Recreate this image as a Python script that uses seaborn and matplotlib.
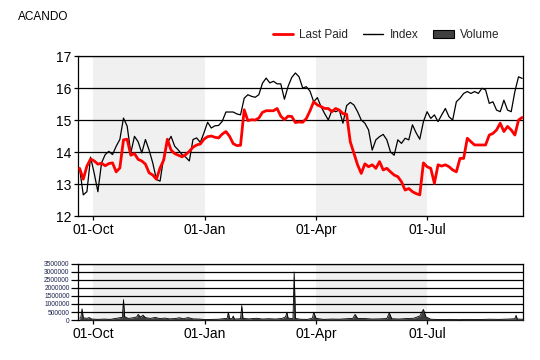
import pandas as pd
import seaborn as sns
import matplotlib.pyplot as plt
import matplotlib.dates as mdates
from matplotlib.lines import Line2D
from matplotlib.patches import Patch

title = "ACANDO"
start_date = "2011-09-20"

# closing prices, one reading every third day
last_paid = [
    13.49, 13.15, 13.56, 13.78, 13.72, 13.62, 13.65, 13.57, 13.64, 13.66,
    13.38, 13.50, 14.38, 14.40, 13.90, 13.95, 13.77, 13.72, 13.62, 13.35,
    13.28, 13.15, 13.50, 13.75, 14.40, 14.06, 13.95, 13.90, 13.85, 13.92,
    14.02, 14.15, 14.22, 14.25, 14.40, 14.48, 14.50, 14.46, 14.44, 14.56,
    14.64, 14.49, 14.26, 14.20, 14.21, 15.32, 14.98, 15.01, 15.00, 15.06,
    15.24, 15.29, 15.29, 15.29, 15.36, 15.12, 15.01, 15.12, 15.11, 14.92,
    14.94, 14.93, 15.05, 15.29, 15.57, 15.47, 15.42, 15.36, 15.36, 15.26,
    15.36, 15.31, 15.20, 15.18, 14.32, 13.96, 13.60, 13.33, 13.63, 13.54,
    13.60, 13.49, 13.70, 13.44, 13.49, 13.38, 13.28, 13.23, 13.07, 12.81,
    12.86, 12.76, 12.70, 12.66, 13.66, 13.54, 13.49, 13.02, 13.60, 13.56,
    13.60, 13.54, 13.44, 13.38, 13.80, 13.80, 14.43, 14.32, 14.22, 14.22,
    14.22, 14.22, 14.53, 14.58, 14.69, 14.90, 14.64, 14.80, 14.69, 14.53,
    15.00, 15.08,
]
index_vals = [
    13.49, 12.66, 12.76, 13.84, 13.33, 12.76, 13.66, 13.92, 14.02, 13.92,
    14.18, 14.39, 15.06, 14.81, 13.97, 14.49, 14.32, 13.97, 14.39, 14.06,
    13.66, 13.14, 13.09, 13.84, 14.28, 14.49, 14.18, 14.06, 13.92, 13.84,
    13.72, 14.39, 14.44, 14.30, 14.60, 14.93, 14.75, 14.82, 14.83, 14.96,
    15.25, 15.25, 15.25, 15.19, 15.16, 15.68, 15.79, 15.74, 15.71, 15.79,
    16.15, 16.31, 16.16, 16.21, 16.13, 16.13, 15.65, 16.05, 16.33, 16.47,
    16.35, 16.00, 16.04, 15.90, 15.57, 15.70, 15.42, 15.20, 15.00, 15.31,
    15.26, 15.31, 14.90, 15.45, 15.55, 15.47, 15.26, 15.00, 14.90, 14.69,
    14.06, 14.38, 14.48, 14.55, 14.38, 14.00, 13.90, 14.38, 14.27, 14.43,
    14.38, 14.85, 14.60, 14.40, 14.95, 15.26, 15.05, 15.16, 14.95, 15.16,
    15.36, 15.10, 15.00, 15.57, 15.68, 15.83, 15.89, 15.83, 15.89, 15.83,
    15.99, 15.94, 15.52, 15.57, 15.31, 15.26, 15.62, 15.31, 15.26, 15.89,
    16.35, 16.30,
]

vol_dates = [
    "2011-09-20", "2011-09-21", "2011-09-22", "2011-09-23", "2011-09-26",
    "2011-09-28", "2011-09-30", "2011-10-05", "2011-10-10", "2011-10-15",
    "2011-10-19", "2011-10-22", "2011-10-24", "2011-10-25", "2011-10-26",
    "2011-10-27", "2011-10-30", "2011-11-03", "2011-11-06", "2011-11-07",
    "2011-11-09", "2011-11-11", "2011-11-13", "2011-11-17", "2011-11-21",
    "2011-11-25", "2011-11-29", "2011-12-03", "2011-12-07", "2011-12-11",
    "2011-12-14", "2011-12-18", "2011-12-22", "2011-12-27", "2012-01-01",
    "2012-01-06", "2012-01-12", "2012-01-17", "2012-01-19", "2012-01-20",
    "2012-01-21", "2012-01-23", "2012-01-24", "2012-01-25", "2012-01-30",
    "2012-01-31", "2012-02-01", "2012-02-06", "2012-02-12", "2012-02-17",
    "2012-02-22", "2012-02-28", "2012-03-04", "2012-03-07", "2012-03-08",
    "2012-03-09", "2012-03-13", "2012-03-14", "2012-03-15", "2012-03-19",
    "2012-03-25", "2012-03-29", "2012-03-30", "2012-04-01", "2012-04-07",
    "2012-04-14", "2012-04-20", "2012-04-26", "2012-05-01", "2012-05-03",
    "2012-05-05", "2012-05-11", "2012-05-17", "2012-05-23", "2012-05-29",
    "2012-05-31", "2012-06-02", "2012-06-08", "2012-06-14", "2012-06-20",
    "2012-06-25", "2012-06-28", "2012-06-30", "2012-07-04", "2012-07-11",
    "2012-07-19", "2012-07-27", "2012-08-04", "2012-08-13", "2012-08-21",
    "2012-08-29", "2012-09-06", "2012-09-11", "2012-09-12", "2012-09-13",
    "2012-09-18",
]
vol_values = [
    120000, 150000, 700000, 130000, 110000,
    150000, 60000, 40000, 60000, 40000,
    90000, 130000, 160000, 120000, 1270000,
    200000, 100000, 140000, 200000, 350000,
    180000, 300000, 150000, 100000, 160000,
    90000, 120000, 70000, 90000, 140000,
    80000, 150000, 70000, 60000, 30000,
    40000, 50000, 90000, 100000, 490000,
    90000, 80000, 250000, 60000, 80000,
    900000, 100000, 70000, 110000, 60000,
    80000, 60000, 100000, 200000, 490000,
    120000, 80000, 3000000, 100000, 50000,
    40000, 120000, 490000, 100000, 40000,
    60000, 50000, 80000, 100000, 350000,
    100000, 90000, 60000, 70000, 90000,
    450000, 80000, 60000, 90000, 110000,
    250000, 660000, 200000, 50000, 30000,
    40000, 20000, 40000, 30000, 50000,
    40000, 60000, 80000, 290000, 60000,
    50000,
]

price_ticks = [12, 13, 14, 15, 16, 17]
vol_ticks = [0, 500000, 1000000, 1500000, 2000000, 2500000, 3000000, 3500000]
shaded = [("2011-10-01", "2012-01-01"), ("2012-04-01", "2012-07-01")]

dates = pd.date_range(start_date, periods=len(last_paid), freq="3D")
df = pd.DataFrame({"date": dates, "last_paid": last_paid, "index": index_vals})
vol = pd.DataFrame({"date": pd.to_datetime(vol_dates), "volume": vol_values})

sns.set_theme(style="white")
plt.rcParams["font.family"] = ["Liberation Sans", "DejaVu Sans"]

fig = plt.figure(figsize=(5.4, 3.6), dpi=100)
ax = fig.add_axes([0.1444, 0.4, 0.8241, 0.4444])
ax2 = fig.add_axes([0.1444, 0.1111, 0.8241, 0.1556])

xlim = (pd.Timestamp("2011-09-18 16:00"), pd.Timestamp("2012-09-17 16:00"))

for a in (ax, ax2):
    for s, e in shaded:
        a.axvspan(pd.Timestamp(s), pd.Timestamp(e), color="#f0f0f0", lw=0, zorder=0)
    a.set_axisbelow(True)
    a.yaxis.grid(True, color="black", lw=0.9)
    a.xaxis.grid(False)
    for sp in a.spines.values():
        sp.set_color("black")
        sp.set_linewidth(0.9)
    a.set_xlim(xlim)
    a.xaxis.set_major_locator(mdates.MonthLocator(bymonth=[1, 4, 7, 10]))
    a.xaxis.set_major_formatter(mdates.DateFormatter("%d-%b"))
    a.tick_params(bottom=True, left=True, direction="out", length=3, width=0.9,
                  color="black", labelcolor="black", pad=2)

# price panel
sns.lineplot(data=df, x="date", y="index", ax=ax, color="black", lw=0.9, zorder=3)
sns.lineplot(data=df, x="date", y="last_paid", ax=ax, color="#ff0000", lw=2.0, zorder=4)
ax.set_ylim(12, 17)
ax.set_yticks(price_ticks)
ax.tick_params(labelsize=10)
ax.set_xlabel("")
ax.set_ylabel("")

# volume panel
ax2.fill_between(vol["date"], vol["volume"], color="#3c3c3c", lw=0, zorder=3)
sns.lineplot(data=vol, x="date", y="volume", ax=ax2, color="black", lw=0.6, zorder=4)
ax2.set_ylim(0, 3500000)
ax2.set_yticks(vol_ticks)
ax2.set_yticklabels([str(v) for v in vol_ticks])
ax2.tick_params(axis="y", labelsize=4.8, pad=1, length=5, labelcolor="#1c2450")
ax2.tick_params(axis="x", labelsize=10)
ax2.set_xlabel("")
ax2.set_ylabel("")

fig.text(0.033, 0.953, title, fontsize=8.5, va="center", color="black")

handles = [
    Line2D([], [], color="#ff0000", lw=2.0),
    Line2D([], [], color="black", lw=1.0),
    Patch(facecolor="#404040", edgecolor="black", lw=0.8),
]
fig.legend(handles=handles, labels=["Last Paid", "Index", "Volume"],
           loc="center", bbox_to_anchor=(0.715, 0.903), ncol=3, frameon=False,
           fontsize=8.5, handlelength=1.7, handletextpad=0.5, columnspacing=1.3)

fig.savefig("out.png", dpi=100)
